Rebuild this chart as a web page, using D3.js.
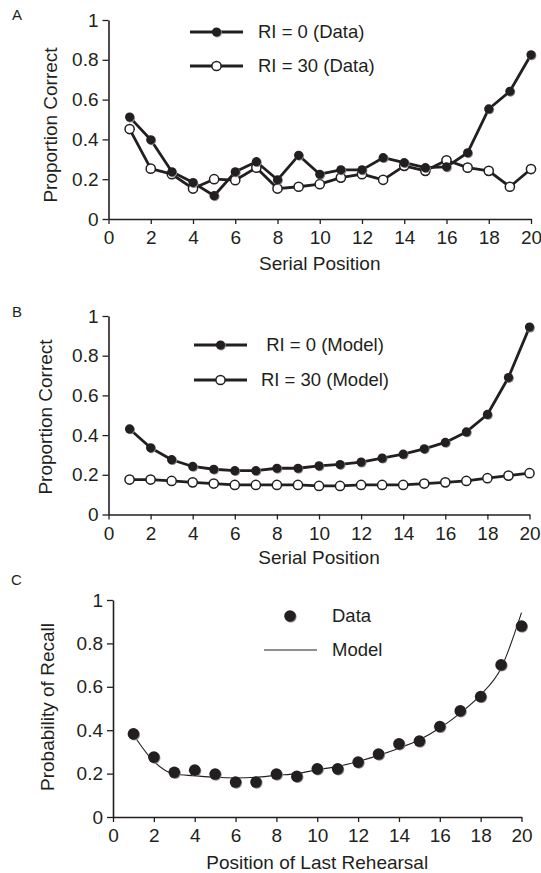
<!DOCTYPE html>
<html>
<head>
<meta charset="utf-8">
<script src="https://cdn.jsdelivr.net/npm/d3@7"></script>
<style>
  html, body { margin: 0; padding: 0; background: #fff; }
  svg { display: block; }
  text { font-family: "Liberation Sans", Arial, Helvetica, sans-serif; fill: #231f20; }
</style>
</head>
<body>
<svg id="chart" width="541" height="873"></svg>
<script>
// ---------- data ----------
const positions = [1,2,3,4,5,6,7,8,9,10,11,12,13,14,15,16,17,18,19,20];
const xTicks = [0,2,4,6,8,10,12,14,16,18,20];
const yTicks = [0,0.2,0.4,0.6,0.8,1];
const yTickLabels = ["0","0.2","0.4","0.6","0.8","1"];

// Panel A – observed
const ri0Data  = [0.512,0.398,0.237,0.183,0.117,0.237,0.288,0.197,0.320,0.225,0.247,0.247,0.308,0.283,0.258,0.262,0.333,0.553,0.642,0.825];
const ri30Data = [0.452,0.253,0.225,0.153,0.200,0.195,0.258,0.153,0.162,0.175,0.208,0.225,0.197,0.267,0.242,0.295,0.258,0.242,0.162,0.251];

// Panel B – model
const ri0Model  = [0.431,0.336,0.276,0.242,0.228,0.221,0.221,0.233,0.233,0.245,0.252,0.264,0.284,0.304,0.331,0.363,0.416,0.504,0.690,0.944];
const ri30Model = [0.176,0.176,0.169,0.162,0.156,0.149,0.149,0.149,0.149,0.144,0.144,0.149,0.149,0.149,0.156,0.162,0.169,0.183,0.196,0.208];

// Panel C – recall by position of last rehearsal
const rehearsalData  = [0.383,0.276,0.206,0.216,0.198,0.161,0.161,0.198,0.187,0.222,0.222,0.253,0.290,0.337,0.350,0.417,0.489,0.555,0.701,0.880];
const rehearsalModel = [0.379,0.256,0.198,0.190,0.183,0.180,0.183,0.192,0.200,0.218,0.233,0.256,0.284,0.317,0.356,0.410,0.479,0.563,0.686,0.942];

const panelLetters = ["A","B","C"];
const xTitles = ["Serial Position","Serial Position","Position of Last Rehearsal"];
const yTitles = ["Proportion Correct","Proportion Correct","Probability of Recall"];
const legendA = ["RI = 0 (Data)","RI = 30 (Data)"];
const legendB = ["RI = 0 (Model)","RI = 30 (Model)"];
const legendC = ["Data","Model"];

// ---------- drawing ----------
const INK = "#231f20";
const svg = d3.select("#chart");

const panels = [
  { x0:108.5, x1:531, y0:219, y1:20,  letterX:12, letterY:20,  xTitleY:270, yTitleX:57, yTitleCY:125 },
  { x0:108.5, x1:529.5, y0:514.5, y1:316, letterX:12, letterY:317, xTitleY:564, yTitleX:52, yTitleCY:417 },
  { x0:113,  x1:521.5, y0:817, y1:600, letterX:11, letterY:585, xTitleY:869, yTitleX:54, yTitleCY:707 }
];

function drawAxes(p, i) {
  const x = d3.scaleLinear().domain([0,20]).range([p.x0,p.x1]);
  const y = d3.scaleLinear().domain([0,1]).range([p.y0,p.y1]);
  const g = svg.append("g");

  const xa = g.append("g").attr("transform",`translate(0,${p.y0})`)
    .call(d3.axisBottom(x).tickValues(xTicks).tickFormat(d3.format("d")).tickSizeInner(5).tickSizeOuter(0).tickPadding(7));
  const ya = g.append("g").attr("transform",`translate(${p.x0},0)`)
    .call(d3.axisLeft(y).tickValues(yTicks).tickFormat((d,k)=>yTickLabels[k]).tickSizeInner(6).tickSizeOuter(0).tickPadding(4));
  [xa,ya].forEach(a=>{
    a.select(".domain").attr("stroke",INK).attr("stroke-width",1.6);
    a.selectAll(".tick line").attr("stroke",INK).attr("stroke-width",1.3);
    a.selectAll(".tick text").attr("font-size",19).attr("fill",INK)
      .attr("font-family",'"Liberation Sans", Arial, Helvetica, sans-serif');
  });

  g.append("text").attr("x",(p.x0+p.x1)/2).attr("y",p.xTitleY)
    .attr("text-anchor","middle").attr("font-size",19).text(xTitles[i]);
  g.append("text").attr("transform",`translate(${p.yTitleX},${p.yTitleCY}) rotate(-90)`)
    .attr("text-anchor","middle").attr("font-size",19).text(yTitles[i]);
  g.append("text").attr("x",p.letterX).attr("y",p.letterY)
    .attr("font-size",15).text(panelLetters[i]);
  return {x,y,g};
}

function filledDot(g, cx, cy, r) {
  g.append("circle").attr("cx",cx+0.8).attr("cy",cy+0.8).attr("r",r).attr("fill","#8a8a8a");
  g.append("circle").attr("cx",cx).attr("cy",cy).attr("r",r).attr("fill",INK);
}
function openDot(g, cx, cy, r) {
  g.append("circle").attr("cx",cx).attr("cy",cy).attr("r",r)
    .attr("fill","#fff").attr("stroke",INK).attr("stroke-width",1.5);
}

function drawSeriesPanel(p, i, filledVals, openVals, legendTexts, legendLayout) {
  const {x,y,g} = drawAxes(p,i);
  const line = d3.line().x((d,k)=>x(positions[k])).y(d=>y(d));
  g.append("path").datum(filledVals).attr("d",line).attr("fill","none")
    .attr("stroke",INK).attr("stroke-width",2.8).attr("stroke-linejoin","round");
  g.append("path").datum(openVals).attr("d",line).attr("fill","none")
    .attr("stroke",INK).attr("stroke-width",2.8).attr("stroke-linejoin","round");
  openVals.forEach((v,k)=>openDot(g,x(positions[k]),y(v),4.6));
  filledVals.forEach((v,k)=>filledDot(g,x(positions[k]),y(v),4.6));

  // legend
  const L = legendLayout;
  L.rows.forEach((ry,k)=>{
    g.append("line").attr("x1",L.lx0).attr("x2",L.lx1).attr("y1",ry).attr("y2",ry)
      .attr("stroke",INK).attr("stroke-width",2.8);
    const cx=(L.lx0+L.lx1)/2;
    if (k===0) filledDot(g,cx,ry,4.6); else openDot(g,cx,ry,4.6);
    g.append("text").attr("x",L.tx).attr("y",ry).attr("dy","0.35em")
      .attr("text-anchor",L.anchor).attr("font-size",18.5).text(legendTexts[k]);
  });
}

drawSeriesPanel(panels[0],0,ri0Data,ri30Data,legendA,
  {lx0:190,lx1:243,rows:[32,66],tx:258,anchor:"start"});
drawSeriesPanel(panels[1],1,ri0Model,ri30Model,legendB,
  {lx0:194,lx1:247,rows:[345,380],tx:325,anchor:"middle"});

// Panel C
(function(){
  const p = panels[2];
  const {x,y,g} = drawAxes(p,2);
  const line = d3.line().x((d,k)=>x(positions[k])).y(d=>y(d)).curve(d3.curveMonotoneX);
  g.append("path").datum(rehearsalModel).attr("d",line).attr("fill","none")
    .attr("stroke",INK).attr("stroke-width",1.1);
  rehearsalData.forEach((v,k)=>filledDot(g,x(positions[k]),y(v),5.8));
  // legend
  filledDot(g,290,616,5.8);
  g.append("text").attr("x",332).attr("y",616).attr("dy","0.35em").attr("font-size",18.5).text(legendC[0]);
  g.append("line").attr("x1",264).attr("x2",317).attr("y1",650).attr("y2",650)
    .attr("stroke",INK).attr("stroke-width",1.1);
  g.append("text").attr("x",332).attr("y",650).attr("dy","0.35em").attr("font-size",18.5).text(legendC[1]);
})();
</script>
</body>
</html>
